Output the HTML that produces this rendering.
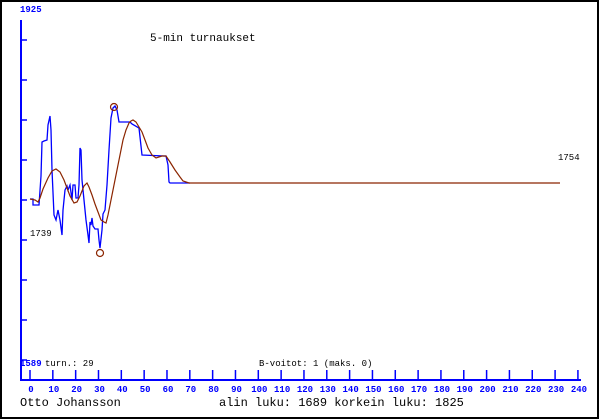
<!DOCTYPE html>
<html><head><meta charset="utf-8"><style>
html,body{margin:0;padding:0;background:#fff}
svg{display:block}
text{font-family:"Liberation Mono",monospace}
</style></head><body>
<svg width="600" height="420" xmlns="http://www.w3.org/2000/svg">
<rect x="1" y="1" width="597" height="417" fill="#fff" stroke="#000" stroke-width="2"/>
<g stroke="#00f" stroke-width="2" fill="none">
<line x1="21" y1="20" x2="21" y2="381"/>
<line x1="20" y1="380" x2="581" y2="380"/>
</g>
<g stroke="#00f" stroke-width="1.5">
<line x1="21" y1="40" x2="27" y2="40"/><line x1="21" y1="80" x2="27" y2="80"/>
<line x1="21" y1="120" x2="27" y2="120"/><line x1="21" y1="160" x2="27" y2="160"/>
<line x1="21" y1="200" x2="27" y2="200"/><line x1="21" y1="240" x2="27" y2="240"/>
<line x1="21" y1="280" x2="27" y2="280"/><line x1="21" y1="320" x2="27" y2="320"/>
<line x1="21" y1="360" x2="27" y2="360"/>
</g>
<g id="xt" stroke="#00f" stroke-width="1.5"></g>
<g id="xl" fill="#00f" font-size="9" font-weight="bold" text-anchor="middle"></g>
<text x="20" y="12" fill="#00f" font-size="9" font-weight="bold">1925</text>
<text x="20" y="366" fill="#00f" font-size="9" font-weight="bold">1589</text>
<text x="45" y="366" fill="#000" font-size="9">turn.: 29</text>
<text x="259" y="366" fill="#000" font-size="9">B-voitot: 1 (maks. 0)</text>
<text x="150" y="41" fill="#000" font-size="11">5-min turnaukset</text>
<text x="558" y="160" fill="#000" font-size="9">1754</text>
<text x="30" y="236" fill="#000" font-size="9">1739</text>
<text x="20" y="406" fill="#000" font-size="12">Otto Johansson</text>
<text x="219" y="406" fill="#000" font-size="12">alin luku: 1689  korkein luku: 1825</text>
<polyline fill="none" stroke="#00f" stroke-width="1.3" points="30,199 33,199 33,205 39,205 41,176 42,142 44,141 47,140 48,125 50,116 51,130 52,170 54,215 56,220 58,210 60,220 62,235 63,210 65,190 67,186 68,190 70,185 72,200 73,185 75,185 76,198 78,198 79,185 80,148 81,150 82,180 84,200 86,220 88,235 89,243 90,222 91,225 92,218 93,226 95,229 98,229 99,240 100,248 102,230 103,214 105,210 107,185 109,150 111,118 113,108 115,106 117,110 119,122 130,122 132,124 139,128 142,155 164,156 166,156 168,165 169,182 170,183 190,183"/>
<polyline fill="none" stroke="#8b2500" stroke-width="1.2" points="30,199 35,200 38,202 40,198 43,189 48,178 52,171 56,169 60,172 64,180 67,188 70,196 74,203 77,202 80,196 84,186 87,183 89,187 92,195 95,204 98,212 101,220 104,222 106,223 108,215 111,200 114,185 117,170 120,155 123,140 126,130 129,123 131,121 133,120 136,122 139,127 142,132 145,140 148,148 152,155 156,158 162,156 166,156 170,162 175,170 180,177 183,181 189,183 560,183"/>
<circle cx="114" cy="107" r="3.5" fill="none" stroke="#8b2500" stroke-width="1.2"/>
<circle cx="100" cy="253" r="3.5" fill="none" stroke="#8b2500" stroke-width="1.2"/>
</svg>
<script>
var t=document.getElementById('xt'),l=document.getElementById('xl'),ns='http://www.w3.org/2000/svg';
for(var i=0;i<=24;i++){var x=30+i*22.83;
var ln=document.createElementNS(ns,'line');ln.setAttribute('x1',x);ln.setAttribute('x2',x);ln.setAttribute('y1',370);ln.setAttribute('y2',380);t.appendChild(ln);
var tx=document.createElementNS(ns,'text');tx.setAttribute('x',x+1);tx.setAttribute('y',392);tx.textContent=i*10;l.appendChild(tx);}
</script>
</body></html>
